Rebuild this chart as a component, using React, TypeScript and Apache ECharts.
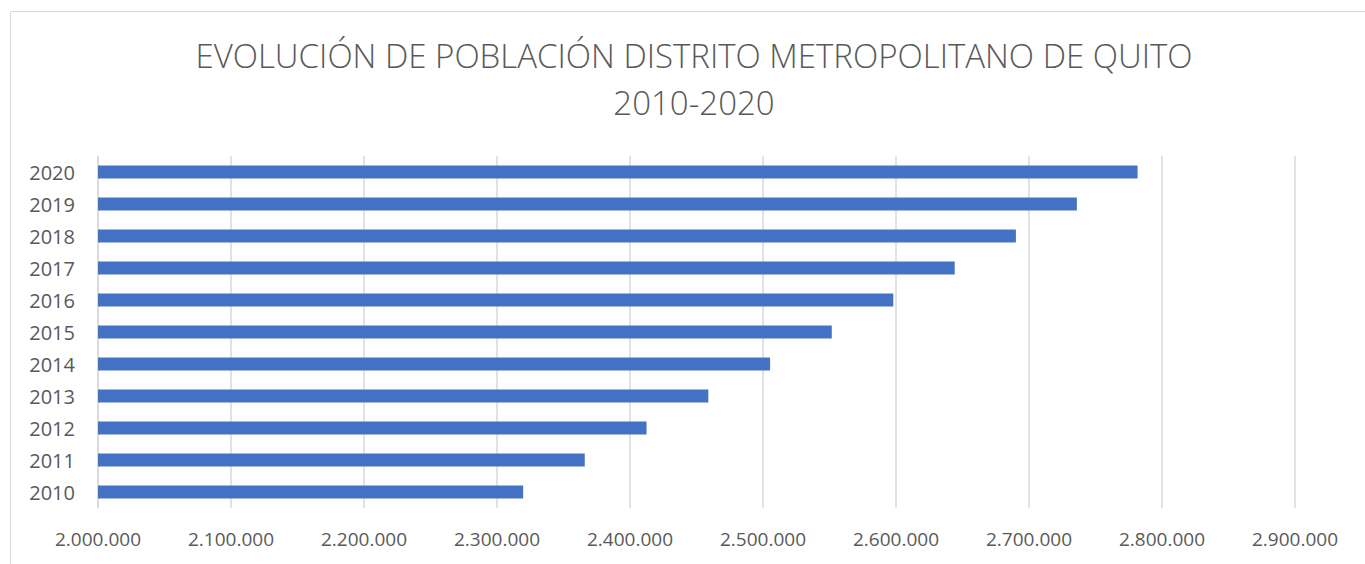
import React, { useEffect, useRef } from "react";
import * as echarts from "echarts";

const years = ["2010", "2011", "2012", "2013", "2014", "2015", "2016", "2017", "2018", "2019", "2020"];
const population = [2319671, 2365973, 2412427, 2458900, 2505344, 2551721, 2597989, 2644145, 2690150, 2735987, 2781641];
const titleLines = ["EVOLUCIÓN DE POBLACIÓN DISTRITO METROPOLITANO DE QUITO", "2010-2020"];
const xMin = 2000000;
const xMax = 2900000;
const xStep = 100000;

const fmt = (v: number) => String(Math.round(v)).replace(/\B(?=(\d{3})+(?!\d))/g, ".");

export default function App() {
  const ref = useRef<HTMLDivElement>(null);
  useEffect(() => {
    if (!ref.current) return;
    const chart = echarts.init(ref.current, null, { renderer: "svg" });
    chart.setOption({
      animation: false,
      backgroundColor: "#ffffff",
      graphic: [
        {
          type: "rect",
          shape: { x: 10.5, y: 11.5, width: 1370, height: 570 },
          style: { fill: "none", stroke: "#d9d9d9", lineWidth: 1 },
          silent: true,
        },
        {
          type: "text",
          x: 694,
          y: 79,
          style: {
            text: titleLines.join("\n"),
            fill: "#595959",
            fontFamily: "Open Sans",
            fontWeight: 300,
            fontSize: 33,
            lineHeight: 47,
            textAlign: "center",
            textVerticalAlign: "middle",
          },
        },
      ],
      grid: { left: 98, right: 70, top: 156, bottom: 56, containLabel: false },
      xAxis: {
        type: "value",
        min: xMin,
        max: xMax,
        interval: xStep,
        axisLine: { show: false },
        axisTick: { show: false },
        splitLine: { show: true, lineStyle: { color: "#d9d9d9", width: 1.5 } },
        axisLabel: {
          formatter: (v: number) => fmt(v),
          color: "#595959",
          fontFamily: "Open Sans",
          fontSize: 19,
          margin: 21,
        },
      },
      yAxis: {
        type: "category",
        data: years,
        axisLine: { show: true, lineStyle: { color: "#d9d9d9", width: 1.5 } },
        axisTick: { show: false },
        axisLabel: {
          color: "#595959",
          fontFamily: "Open Sans",
          fontSize: 20,
          margin: 23,
        },
      },
      series: [
        {
          type: "bar",
          data: population,
          barWidth: 13,
          itemStyle: { color: "#4472C4" },
        },
      ],
    });
    return () => chart.dispose();
  }, []);
  return <div ref={ref} style={{ position: "fixed", left: 0, top: 0, width: 1365, height: 564 }} />;
}
